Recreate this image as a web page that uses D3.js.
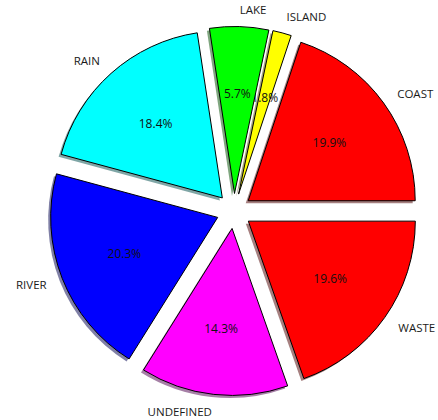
<!DOCTYPE html>
<html>
<head>
<meta charset="utf-8">
<script src="https://cdn.jsdelivr.net/npm/d3@7"></script>
<style>
  body { margin: 0; background: #fff; }
  svg { display: block; }
</style>
</head>
<body>
<script>
const categories = ["COAST", "ISLAND", "LAKE", "RAIN", "RIVER", "UNDEFINED", "WASTE"];
const shares = [19.9, 1.8, 5.7, 18.4, 20.3, 14.3, 19.6];
const colors = ["#ff0000", "#ffff00", "#00ff00", "#00ffff", "#0000ff", "#ff00ff", "#ff0000"];

const width = 438;
const height = 420;
const cx = 234;
const cy = 211;
const radius = 167;
const explode = 0.105;

const svg = d3
  .select("body")
  .append("svg")
  .attr("width", width)
  .attr("height", height);

// matplotlib style: start at 3 o'clock, go counterclockwise
const pie = d3
  .pie()
  .sort(null)
  .startAngle(Math.PI / 2)
  .endAngle(Math.PI / 2 - 2 * Math.PI);

const arcs = pie(shares);
const arc = d3.arc().innerRadius(0).outerRadius(radius);

const g = svg.append("g").attr("transform", `translate(${cx},${cy})`);

const slices = g
  .selectAll("g.slice")
  .data(arcs)
  .enter()
  .append("g")
  .attr("class", "slice")
  .attr("transform", (d) => {
    const m = (d.startAngle + d.endAngle) / 2;
    const off = explode * radius;
    return `translate(${Math.sin(m) * off},${-Math.cos(m) * off})`;
  });

// shadow
slices
  .append("path")
  .attr("d", arc)
  .attr("transform", "translate(-2.5,2.5)")
  .attr("fill", (d, i) => {
    const c = d3.rgb(colors[i]);
    return d3.rgb(c.r * 0.3, c.g * 0.3, c.b * 0.3);
  })
  .attr("opacity", 0.5);

slices
  .append("path")
  .attr("d", arc)
  .attr("fill", (d, i) => colors[i])
  .attr("stroke", "#000")
  .attr("stroke-width", 1);

// category labels
slices
  .append("text")
  .attr("x", (d) => Math.sin((d.startAngle + d.endAngle) / 2) * radius * 1.1)
  .attr("y", (d) => -Math.cos((d.startAngle + d.endAngle) / 2) * radius * 1.1)
  .attr("text-anchor", (d) =>
    Math.sin((d.startAngle + d.endAngle) / 2) > 0 ? "start" : "end"
  )
  .attr("dominant-baseline", "central")
  .attr("font-family", "Open Sans, DejaVu Sans, sans-serif")
  .attr("font-size", "11.5px")
  .attr("fill", "#1a1a1a")
  .text((d, i) => categories[i]);

// percentage labels
slices
  .append("text")
  .attr("x", (d) => Math.sin((d.startAngle + d.endAngle) / 2) * radius * 0.6)
  .attr("y", (d) => -Math.cos((d.startAngle + d.endAngle) / 2) * radius * 0.6)
  .attr("text-anchor", "middle")
  .attr("dominant-baseline", "central")
  .attr("font-family", "Open Sans, DejaVu Sans, sans-serif")
  .attr("font-size", "12px")
  .attr("fill", "#111")
  .text((d) => d.data.toFixed(1) + "%");
</script>
</body>
</html>
